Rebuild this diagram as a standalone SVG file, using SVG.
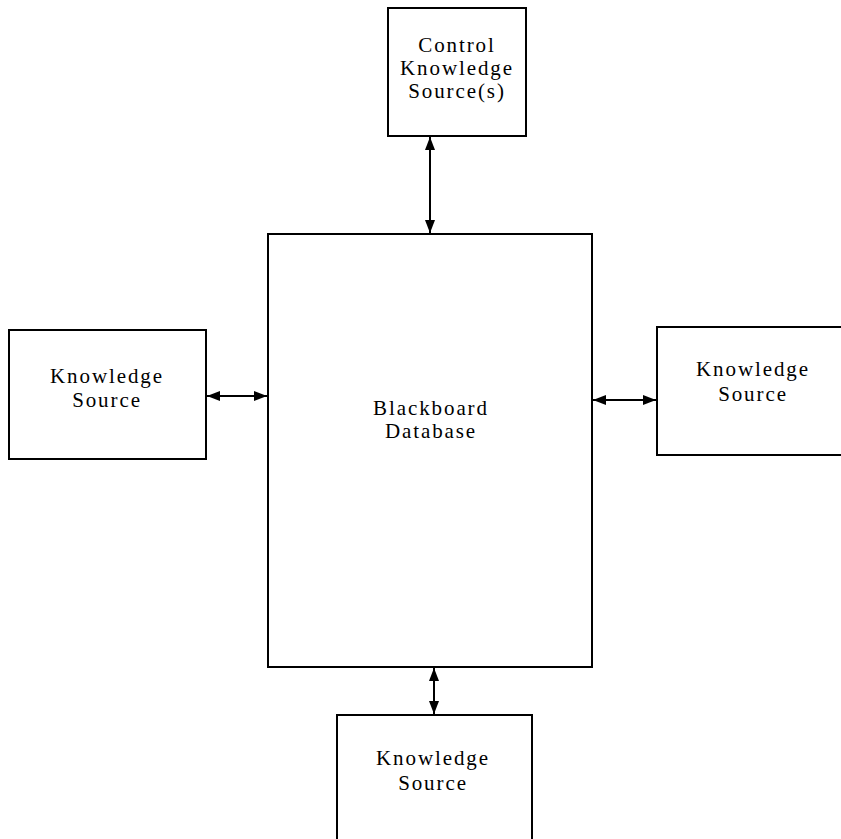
<svg xmlns="http://www.w3.org/2000/svg" width="841" height="839" viewBox="0 0 841 839">
<defs>
<style>
.box{fill:#fff;stroke:#000;stroke-width:2}
.lbl{font-family:"Liberation Serif",serif;font-size:21px;letter-spacing:1.9px;fill:#000;text-anchor:middle}
.con{stroke:#000;stroke-width:2;fill:none;marker-start:url(#ah);marker-end:url(#ah)}
</style>
<marker id="ah" viewBox="0 0 13 10" refX="13" refY="5" markerWidth="13" markerHeight="10" markerUnits="userSpaceOnUse" orient="auto-start-reverse">
<path d="M0,0 L13,5 L0,10 Z" fill="#000"/>
</marker>
</defs>
<rect width="841" height="839" fill="#fff"/>
<g id="control">
<rect class="box" x="388" y="8" width="138" height="128"/>
<text class="lbl" x="457" y="52">Control</text>
<text class="lbl" x="457" y="75">Knowledge</text>
<text class="lbl" x="457" y="98">Source(s)</text>
</g>
<g id="blackboard">
<rect class="box" x="268" y="234" width="324" height="433"/>
<text class="lbl" x="431" y="415">Blackboard</text>
<text class="lbl" x="431" y="438">Database</text>
</g>
<g id="ks-left">
<rect class="box" x="9" y="330" width="197" height="129"/>
<text class="lbl" x="107" y="383">Knowledge</text>
<text class="lbl" x="107" y="407">Source</text>
</g>
<g id="ks-right">
<rect class="box" x="657" y="327" width="190" height="128"/>
<text class="lbl" x="753" y="376">Knowledge</text>
<text class="lbl" x="753" y="401">Source</text>
</g>
<g id="ks-bottom">
<rect class="box" x="337" y="715" width="195" height="140"/>
<text class="lbl" x="433" y="765">Knowledge</text>
<text class="lbl" x="433" y="790">Source</text>
</g>
<g id="connectors">
<line class="con" x1="430" y1="137" x2="430" y2="233"/>
<line class="con" x1="207" y1="396" x2="267" y2="396"/>
<line class="con" x1="593" y1="400" x2="656" y2="400"/>
<line class="con" x1="434" y1="668" x2="434" y2="714"/>
</g>
</svg>
